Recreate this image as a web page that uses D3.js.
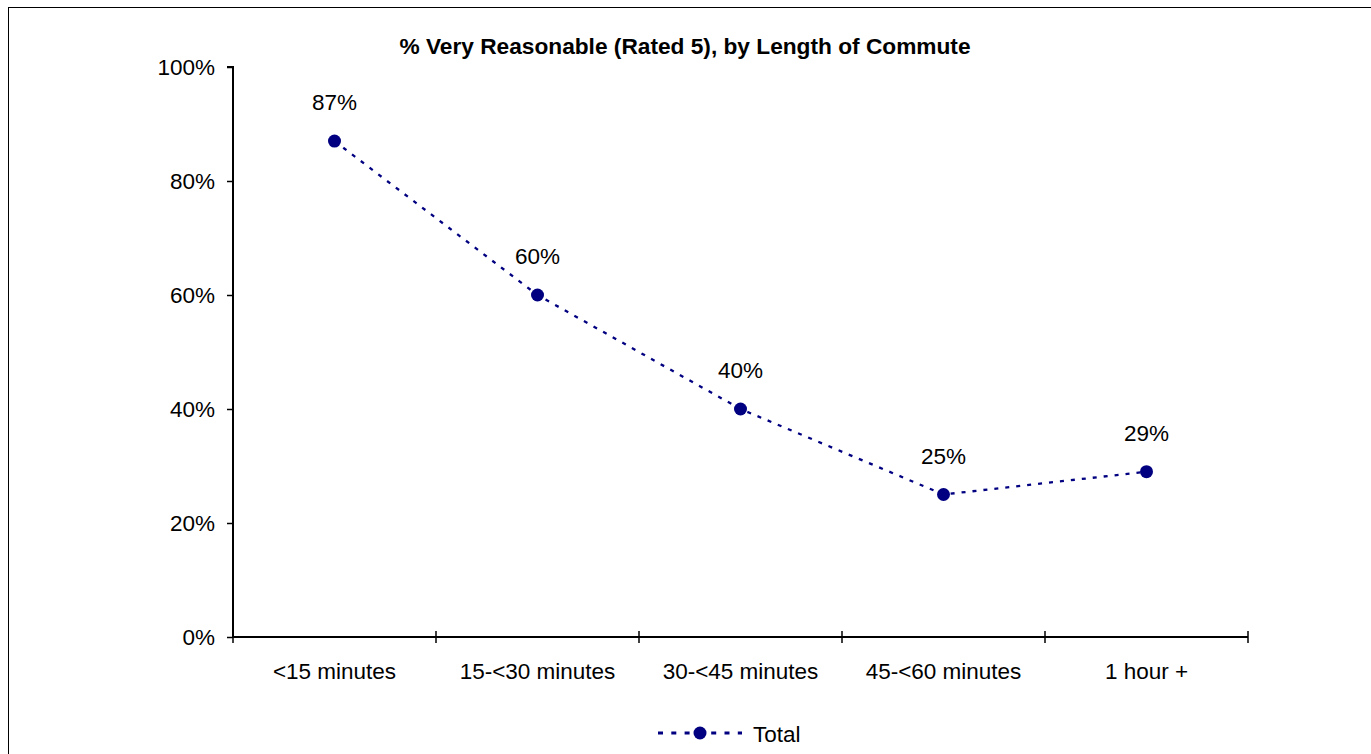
<!DOCTYPE html>
<html><head><meta charset="utf-8">
<script src="https://cdn.jsdelivr.net/npm/d3@7"></script>
<style>body{margin:0;background:#fff}svg{display:block}text{font-family:"Liberation Sans",Arial,sans-serif}</style>
</head><body>
<script>
const categories = ["<15 minutes","15-<30 minutes","30-<45 minutes","45-<60 minutes","1 hour +"];
const values = [0.87,0.60,0.40,0.25,0.29];
const labels = ["87%","60%","40%","25%","29%"];
const yTicks = [0,0.2,0.4,0.6,0.8,1.0];
const title = "% Very Reasonable (Rated 5), by Length of Commute";
const seriesName = "Total";

const W=1371,H=754, L=233, R=1248, T=67, B=637, FS=22.5;
const svg=d3.select("body").append("svg").attr("width",W).attr("height",H);
svg.append("rect").attr("x",8.5).attr("y",7.5).attr("width",1400).attr("height",800).attr("fill","none").attr("stroke","#000").attr("stroke-width",1);

const x=d3.scaleBand().domain(categories).range([L,R]);
const y=d3.scaleLinear().domain([0,1]).range([B,T]);
const navy="#000080";

svg.append("text").attr("x",685).attr("y",54).attr("text-anchor","middle").attr("font-weight","bold").attr("font-size",22.7).text(title);

const ya=svg.append("g").attr("transform",`translate(${L},0)`).call(d3.axisLeft(y).tickValues(yTicks).tickFormat(d3.format(".0%")).tickSize(6).tickPadding(12));
const xa=svg.append("g").attr("transform",`translate(0,${B})`).call(d3.axisBottom(x).tickSize(0).tickPadding(26));
[ya,xa].forEach(g=>{g.select(".domain").attr("stroke","#000").attr("stroke-width",2);g.selectAll("text").attr("font-size",FS).attr("fill","#000").attr("font-family","Liberation Sans, Arial, sans-serif");g.selectAll("line").attr("stroke","#000").attr("stroke-width",1.5);});
ya.select(".domain").attr("d",`M0,${B}V${T}H-6`);
xa.select(".domain").attr("d",`M${L},0H${R}`);
// cross tick marks at category boundaries
const bounds=categories.map(c=>x(c)).concat([R]);
svg.append("g").selectAll("line").data(bounds).join("line").attr("x1",d=>d).attr("x2",d=>d).attr("y1",B-6).attr("y2",B+6).attr("stroke","#000").attr("stroke-width",1.5);

const pts=categories.map((c,i)=>[x(c)+x.bandwidth()/2,y(values[i])]);
svg.append("path").attr("d",d3.line()(pts)).attr("fill","none").attr("stroke",navy).attr("stroke-width",2.3).attr("stroke-dasharray","4,7");
svg.append("g").selectAll("circle").data(pts).join("circle").attr("cx",d=>d[0]).attr("cy",d=>d[1]).attr("r",6.5).attr("fill",navy);
svg.append("g").selectAll("text").data(pts).join("text").attr("x",d=>d[0]).attr("y",(d,i)=>d[1]-31).attr("text-anchor","middle").attr("font-size",FS).text((d,i)=>labels[i]);

// legend
svg.append("line").attr("x1",658).attr("x2",742).attr("y1",733).attr("y2",733).attr("stroke",navy).attr("stroke-width",3).attr("stroke-dasharray","5,8.3");
svg.append("circle").attr("cx",700).attr("cy",733).attr("r",6.5).attr("fill",navy);
svg.append("text").attr("x",753).attr("y",742).attr("font-size",FS).text(seriesName);
</script>
</body></html>
